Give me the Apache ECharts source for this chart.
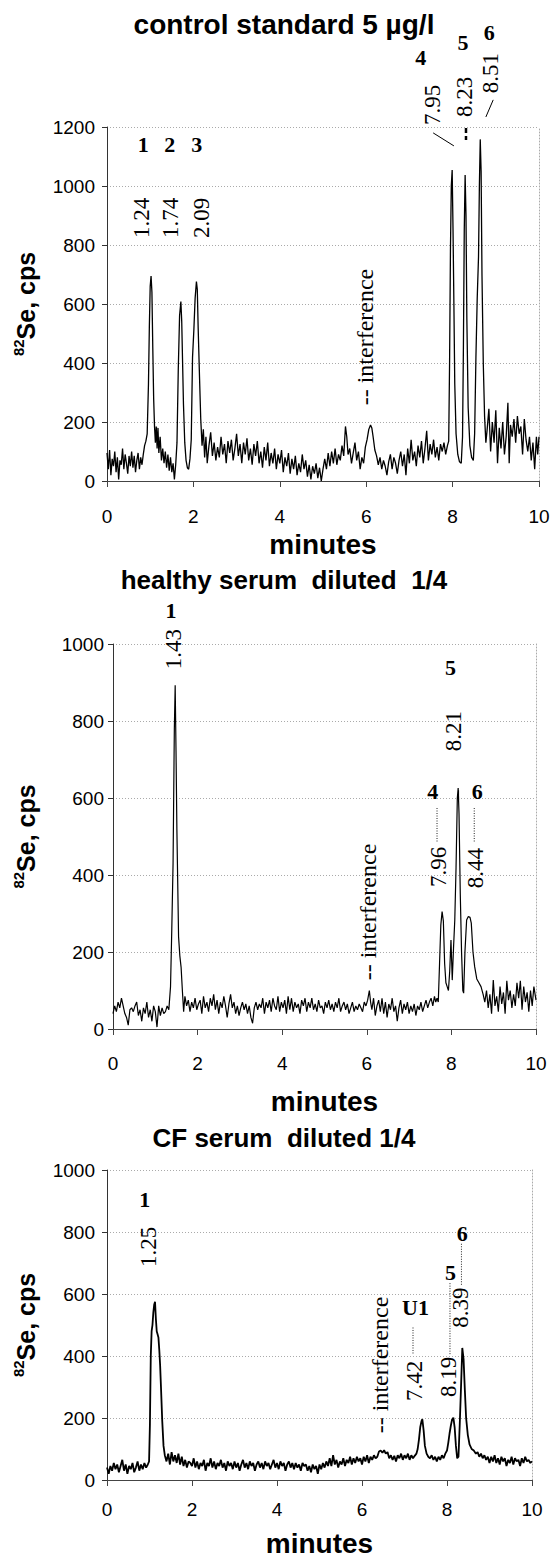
<!DOCTYPE html>
<html>
<head>
<meta charset="utf-8">
<title>82Se chromatograms</title>
<script src="https://cdn.jsdelivr.net/npm/echarts@6/dist/echarts.min.js"></script>
<style>
  html, body { margin: 0; padding: 0; background: #fff; }
  #main { width: 554px; height: 1558px; }
</style>
</head>
<body>
<div id="main"></div>
<script>
/** ---------------- data ---------------- */
// [minutes, cps]
var ctrlTrace = [
  [0,95],[0.03,40],[0.06,105],[0.09,20],[0.12,75],[0.15,50],[0.18,100],[0.21,30],[0.24,80],[0.27,5],
  [0.30,70],[0.33,55],[0.36,110],[0.39,40],[0.42,90],[0.45,60],[0.48,25],[0.51,85],[0.54,50],[0.57,100],
  [0.60,45],[0.63,85],[0.66,30],[0.69,70],[0.72,95],[0.75,40],[0.78,80],[0.81,55],[0.84,90],[0.87,120],
  [0.90,135],[0.93,160],[0.96,330],[0.98,520],[1.00,660],[1.02,695],[1.04,640],[1.06,450],[1.08,280],[1.10,185],
  [1.12,130],[1.14,185],[1.16,110],[1.18,180],[1.20,95],[1.23,150],[1.26,70],[1.29,110],[1.32,60],[1.35,100],
  [1.38,45],[1.41,90],[1.44,35],[1.47,80],[1.50,30],[1.53,60],[1.56,5],[1.59,55],[1.62,130],[1.65,380],
  [1.68,560],[1.71,608],[1.73,540],[1.75,400],[1.77,260],[1.80,130],[1.83,70],[1.86,45],[1.89,40],[1.92,75],
  [1.95,140],[1.98,420],[2.01,510],[2.04,620],[2.07,676],[2.09,650],[2.11,520],[2.14,360],[2.17,210],[2.20,120],
  [2.23,175],[2.26,80],[2.29,150],[2.32,60],[2.36,120],[2.40,165],[2.44,85],[2.48,130],[2.52,70],[2.56,115],
  [2.60,80],[2.64,150],[2.68,90],[2.72,125],[2.76,60],[2.80,135],[2.84,95],[2.88,140],[2.92,70],[2.96,110],
  [3.00,160],[3.04,85],[3.08,125],[3.12,60],[3.16,130],[3.20,90],[3.24,145],[3.28,70],[3.32,110],[3.36,55],
  [3.40,125],[3.44,85],[3.48,135],[3.52,60],[3.56,100],[3.60,45],[3.64,115],[3.68,70],[3.72,130],[3.76,50],
  [3.80,95],[3.84,60],[3.88,110],[3.92,40],[3.96,90],[4.00,60],[4.04,105],[4.08,30],[4.12,80],[4.16,50],
  [4.20,95],[4.24,25],[4.28,75],[4.32,40],[4.36,85],[4.40,20],[4.44,60],[4.48,30],[4.52,90],[4.56,40],
  [4.60,70],[4.64,15],[4.68,55],[4.72,5],[4.76,50],[4.80,25],[4.84,60],[4.88,10],[4.92,45],[4.96,0],
  [5.00,40],[5.04,75],[5.08,40],[5.12,95],[5.16,50],[5.20,100],[5.24,60],[5.28,110],[5.32,55],[5.36,90],
  [5.40,70],[5.44,120],[5.48,85],[5.52,185],[5.55,150],[5.58,90],[5.62,110],[5.66,60],[5.70,95],[5.74,130],
  [5.78,70],[5.82,100],[5.86,40],[5.90,80],[5.94,60],[5.98,115],[6.02,140],[6.06,175],[6.10,190],[6.13,180],
  [6.16,150],[6.20,105],[6.24,85],[6.28,55],[6.32,80],[6.36,40],[6.40,70],[6.44,50],[6.48,20],[6.52,65],
  [6.56,90],[6.60,40],[6.64,80],[6.68,60],[6.72,25],[6.76,70],[6.80,100],[6.84,50],[6.88,90],[6.92,20],
  [6.96,110],[7.00,60],[7.04,140],[7.08,70],[7.12,100],[7.16,50],[7.20,120],[7.24,80],[7.28,135],[7.32,60],
  [7.36,110],[7.40,170],[7.44,70],[7.48,125],[7.52,90],[7.56,140],[7.60,80],[7.64,115],[7.68,70],[7.72,125],
  [7.76,100],[7.80,130],[7.84,90],[7.88,120],[7.91,135],[7.93,400],[7.95,780],[7.97,1000],[7.99,1054],[8.01,850],
  [8.03,600],[8.05,330],[8.08,160],[8.12,90],[8.16,65],[8.20,60],[8.23,150],[8.25,450],[8.27,850],[8.29,1037],
  [8.31,900],[8.33,550],[8.36,250],[8.40,120],[8.44,80],[8.48,70],[8.51,160],[8.54,420],[8.57,620],[8.60,760],
  [8.62,1000],[8.64,1158],[8.66,1050],[8.68,700],[8.71,400],[8.74,220],[8.77,130],[8.80,175],[8.84,245],[8.88,100],
  [8.92,200],[8.96,130],[9.00,240],[9.04,60],[9.08,180],[9.12,110],[9.16,200],[9.20,90],[9.24,150],[9.28,265],
  [9.31,60],[9.34,190],[9.38,150],[9.42,210],[9.46,130],[9.50,220],[9.54,160],[9.58,185],[9.62,90],[9.66,210],
  [9.70,140],[9.74,100],[9.78,150],[9.82,70],[9.86,130],[9.90,40],[9.94,150],[9.97,90],[10,150]
];

var healthyTrace = [
  [0,40],[0.04,60],[0.08,45],[0.12,70],[0.16,55],[0.20,80],[0.24,60],[0.28,40],[0.32,30],[0.36,10],
  [0.40,50],[0.44,55],[0.48,45],[0.52,60],[0.56,70],[0.60,35],[0.64,50],[0.68,20],[0.72,55],[0.76,40],
  [0.80,70],[0.84,30],[0.88,50],[0.92,20],[0.96,60],[1.00,45],[1.04,5],[1.08,60],[1.12,35],[1.16,55],
  [1.20,40],[1.24,45],[1.28,60],[1.32,50],[1.36,110],[1.39,260],[1.42,430],[1.45,780],[1.47,893],[1.49,720],
  [1.51,520],[1.53,380],[1.55,240],[1.58,190],[1.61,160],[1.64,100],[1.67,45],[1.70,85],[1.74,60],[1.78,75],
  [1.82,45],[1.86,70],[1.90,55],[1.94,80],[1.98,50],[2.02,65],[2.06,75],[2.10,40],[2.14,85],[2.18,55],
  [2.22,70],[2.26,45],[2.30,80],[2.34,60],[2.38,90],[2.42,50],[2.46,75],[2.50,40],[2.54,70],[2.58,55],
  [2.62,85],[2.66,60],[2.70,30],[2.74,65],[2.78,90],[2.82,55],[2.86,70],[2.90,40],[2.94,60],[2.98,35],
  [3.02,55],[3.06,70],[3.10,50],[3.14,65],[3.18,40],[3.22,60],[3.26,30],[3.30,15],[3.34,55],[3.38,70],
  [3.42,50],[3.46,65],[3.50,55],[3.54,80],[3.58,40],[3.62,70],[3.66,55],[3.70,75],[3.74,45],[3.78,80],
  [3.82,60],[3.86,50],[3.90,85],[3.94,45],[3.98,70],[4.02,55],[4.06,75],[4.10,40],[4.14,85],[4.18,50],
  [4.22,80],[4.26,45],[4.30,70],[4.34,55],[4.38,65],[4.42,40],[4.46,75],[4.50,60],[4.54,80],[4.58,45],
  [4.62,70],[4.66,55],[4.70,80],[4.74,50],[4.78,65],[4.82,45],[4.86,75],[4.90,55],[4.94,60],[4.98,40],
  [5.02,70],[5.06,55],[5.10,75],[5.14,50],[5.18,65],[5.22,45],[5.26,70],[5.30,55],[5.34,80],[5.38,45],
  [5.42,60],[5.46,70],[5.50,50],[5.54,65],[5.58,40],[5.62,55],[5.66,70],[5.70,45],[5.74,60],[5.78,50],
  [5.82,65],[5.86,55],[5.90,45],[5.94,70],[5.98,60],[6.02,75],[6.06,100],[6.09,70],[6.12,50],[6.16,80],
  [6.20,35],[6.24,60],[6.28,75],[6.32,45],[6.36,80],[6.40,40],[6.44,70],[6.48,30],[6.52,65],[6.56,50],
  [6.60,80],[6.64,45],[6.68,60],[6.72,20],[6.76,55],[6.80,75],[6.84,40],[6.88,65],[6.92,50],[6.96,70],
  [7.00,40],[7.04,60],[7.08,45],[7.12,65],[7.16,35],[7.20,60],[7.24,50],[7.28,70],[7.32,45],[7.36,60],
  [7.40,75],[7.44,55],[7.48,70],[7.52,80],[7.56,60],[7.60,85],[7.63,70],[7.66,80],[7.69,70],[7.72,170],
  [7.75,270],[7.78,305],[7.81,280],[7.84,170],[7.87,120],[7.90,110],[7.93,100],[7.96,150],[7.99,231],[8.02,127],
  [8.05,210],[8.08,283],[8.11,420],[8.14,600],[8.16,626],[8.18,560],[8.21,350],[8.24,200],[8.27,100],[8.29,93],
  [8.32,200],[8.36,283],[8.40,292],[8.44,290],[8.47,275],[8.51,200],[8.55,162],[8.60,130],[8.65,120],[8.70,110],
  [8.75,90],[8.79,70],[8.83,100],[8.87,55],[8.91,90],[8.95,40],[8.99,127],[9.03,60],[9.07,85],[9.11,45],
  [9.15,110],[9.19,65],[9.23,95],[9.27,40],[9.31,125],[9.35,75],[9.39,100],[9.43,55],[9.47,90],[9.51,60],
  [9.55,120],[9.59,80],[9.63,125],[9.67,50],[9.71,110],[9.75,70],[9.79,95],[9.83,45],[9.87,100],[9.91,60],
  [9.95,110],[10,75]
];

var cfTrace = [
  [0,40],[0.04,20],[0.08,45],[0.12,30],[0.16,55],[0.20,35],[0.24,50],[0.28,25],[0.32,45],[0.36,65],
  [0.40,30],[0.44,50],[0.48,20],[0.52,45],[0.56,35],[0.60,55],[0.64,25],[0.68,40],[0.72,60],[0.76,30],
  [0.80,50],[0.84,35],[0.88,55],[0.92,40],[0.96,50],[0.99,60],[1.01,180],[1.03,400],[1.05,480],[1.07,500],
  [1.09,540],[1.11,565],[1.13,575],[1.15,520],[1.17,480],[1.19,470],[1.21,460],[1.23,420],[1.25,370],[1.27,300],
  [1.30,190],[1.33,110],[1.36,80],[1.40,60],[1.44,85],[1.48,50],[1.52,90],[1.56,60],[1.60,80],[1.64,55],
  [1.68,85],[1.72,50],[1.76,75],[1.80,45],[1.84,65],[1.88,40],[1.92,60],[1.96,55],[2.00,45],[2.04,70],
  [2.08,40],[2.12,60],[2.16,35],[2.20,55],[2.24,45],[2.28,65],[2.32,30],[2.36,55],[2.40,45],[2.44,70],
  [2.48,40],[2.52,60],[2.56,35],[2.60,55],[2.64,45],[2.68,65],[2.72,40],[2.76,55],[2.80,30],[2.84,60],
  [2.88,45],[2.92,55],[2.96,35],[3.00,60],[3.04,40],[3.08,55],[3.12,30],[3.16,50],[3.20,65],[3.24,40],
  [3.28,55],[3.32,35],[3.36,60],[3.40,45],[3.44,55],[3.48,30],[3.52,50],[3.56,60],[3.60,40],[3.64,55],
  [3.68,35],[3.72,60],[3.76,45],[3.80,55],[3.84,35],[3.88,50],[3.92,65],[3.96,40],[4.00,55],[4.04,35],
  [4.08,60],[4.12,45],[4.16,55],[4.20,30],[4.24,50],[4.28,60],[4.32,40],[4.36,55],[4.40,35],[4.44,55],
  [4.48,40],[4.52,50],[4.56,30],[4.60,55],[4.64,45],[4.68,50],[4.72,30],[4.76,45],[4.80,25],[4.84,50],
  [4.88,35],[4.92,45],[4.96,20],[5.00,50],[5.04,35],[5.08,55],[5.12,40],[5.16,60],[5.20,45],[5.24,70],
  [5.28,45],[5.32,80],[5.36,50],[5.40,65],[5.44,40],[5.48,60],[5.52,50],[5.56,70],[5.60,45],[5.64,65],
  [5.68,55],[5.72,75],[5.76,50],[5.80,70],[5.84,55],[5.88,75],[5.92,60],[5.96,70],[6.00,50],[6.04,75],
  [6.08,60],[6.12,80],[6.16,55],[6.20,75],[6.24,65],[6.28,80],[6.32,70],[6.36,75],[6.40,92],[6.44,95],
  [6.48,88],[6.52,96],[6.56,85],[6.60,90],[6.64,70],[6.68,80],[6.72,65],[6.76,78],[6.80,60],[6.84,80],
  [6.88,70],[6.92,85],[6.96,65],[7.00,80],[7.04,70],[7.08,85],[7.12,65],[7.16,80],[7.20,70],[7.24,78],
  [7.28,85],[7.31,100],[7.34,130],[7.37,170],[7.40,190],[7.42,196],[7.45,160],[7.48,110],[7.52,85],[7.56,75],
  [7.60,70],[7.64,80],[7.68,65],[7.72,75],[7.76,60],[7.80,75],[7.84,65],[7.88,80],[7.92,70],[7.96,85],
  [8.00,95],[8.03,120],[8.06,150],[8.09,175],[8.12,195],[8.15,201],[8.18,170],[8.21,110],[8.24,70],[8.27,75],
  [8.30,180],[8.33,300],[8.36,426],[8.39,390],[8.42,290],[8.45,200],[8.49,145],[8.53,115],[8.58,100],[8.63,95],
  [8.68,85],[8.72,90],[8.76,75],[8.80,85],[8.84,70],[8.88,80],[8.92,65],[8.96,75],[9.00,55],[9.04,75],
  [9.08,60],[9.12,80],[9.16,55],[9.20,70],[9.24,50],[9.28,75],[9.32,60],[9.36,70],[9.40,45],[9.44,65],
  [9.48,55],[9.52,75],[9.56,50],[9.60,70],[9.64,60],[9.68,65],[9.72,45],[9.76,70],[9.80,55],[9.84,75],
  [9.88,60],[9.92,65],[9.96,55],[10,60]
];

var panelTitles = ['control standard 5 µg/l', 'healthy serum  diluted  1/4', 'CF serum  diluted 1/4'];
var yMax = [1200, 1000, 1000];

// peak numbers and retention times written on each panel
var ctrlPeakNames = ['1', '2', '3', '4', '5', '6'];
var ctrlPeakTimes = ['1.24', '1.74', '2.09', '7.95', '8.23', '8.51'];
var healthyPeakNames = ['1', '5', '4', '6'];
var healthyPeakTimes = ['1.43', '8.21', '7.96', '8.44'];
var cfPeakNames = ['1', '6', '5', 'U1'];
var cfPeakTimes = ['1.25', '8.39', '8.19', '7.42'];
var interferenceText = '-- interference';

/** ---------------- layout ---------------- */
var SANS = '"Liberation Sans", Arial, sans-serif';
var SERIF = '"Liberation Serif", "Times New Roman", serif';

var grids = [
  { left: 107, top: 127, width: 432, height: 354 },
  { left: 113, top: 644, width: 423, height: 385 },
  { left: 107, top: 1170, width: 425, height: 315 }
];
var titleTops = [10, 567, 1125];
var titleSizes = [28, 26, 26];
var xNameGaps = [49, 58, 49];
var xLabelMargins = [26, 25, 20];
var yNameGaps = [66, 72, 66];
var yLabelMargins = [12, 9, 12];
var lineWidths = [1.3, 1.2, 1.8];

// anchors for the annotations, in axis units [minutes, cps]
var namePlaces = [
  [[0.84, 1139], [1.45, 1139], [2.08, 1139], [7.26, 1437], [8.24, 1485], [8.85, 1519]],
  [[1.37, 1088], [7.98, 938], [7.56, 616], [8.61, 616]],
  [[0.89, 905], [8.36, 794], [8.08, 670], [7.26, 556]]
];
var timePlaces = [
  [[0.79, 892], [1.47, 892], [2.19, 892], [7.54, 1275], [8.28, 1302], [8.87, 1383]],
  [[1.42, 987], [8.04, 774], [7.70, 421], [8.56, 418]],
  [[0.98, 752], [8.31, 556], [8.03, 333], [7.23, 320]]
];
var interferencePlaces = [[5.97, 488], [6.03, 304], [6.43, 371]];
// leader lines: [t1, v1, t2, v2, kind]
var leaderLines = [
  [[7.55, 1180, 8.03, 1136, 'thin'], [8.31, 1197, 8.31, 1156, 'dash'], [8.94, 1292, 8.77, 1234, 'thin']],
  [[7.66, 574, 7.66, 486, 'dot'], [8.54, 574, 8.54, 486, 'dot'], [8.17, 620, 8.17, 595, 'thin']],
  [[8.34, 762, 8.34, 629, 'dot'], [8.07, 635, 8.07, 406, 'dot'], [7.20, 492, 7.20, 406, 'dot']]
];

var traces = [ctrlTrace, healthyTrace, cfTrace];
var peakNames = [ctrlPeakNames, healthyPeakNames, cfPeakNames];
var peakTimes = [ctrlPeakTimes, healthyPeakTimes, cfPeakTimes];

var chart = echarts.init(document.getElementById('main'), null, { renderer: 'svg' });

function buildOption() {
  var title = [], xAxis = [], yAxis = [], series = [];
  for (var i = 0; i < 3; i++) {
    title.push({
      text: panelTitles[i],
      left: 284,
      top: titleTops[i],
      textAlign: 'center',
      padding: 0,
      textStyle: { fontFamily: SANS, fontSize: titleSizes[i], fontWeight: 'bold', color: '#000' }
    });
    xAxis.push({
      gridIndex: i,
      type: 'value',
      min: 0,
      max: 10,
      interval: 2,
      name: 'minutes',
      nameLocation: 'middle',
      nameGap: xNameGaps[i],
      nameTextStyle: { fontFamily: SANS, fontSize: 28, fontWeight: 'bold', color: '#000' },
      axisLine: { show: true, onZero: false, lineStyle: { color: '#444', width: 1 } },
      axisTick: { show: true, inside: false, length: 6, lineStyle: { color: '#444' } },
      axisLabel: { fontFamily: SANS, fontSize: 19, color: '#000', margin: xLabelMargins[i] },
      splitLine: { show: false }
    });
    // left value axis
    yAxis.push({
      gridIndex: i,
      type: 'value',
      min: 0,
      max: yMax[i],
      interval: 200,
      name: '{sup|82}{main|Se, cps}',
      nameLocation: 'middle',
      nameRotate: 90,
      nameGap: yNameGaps[i],
      nameTextStyle: {
        rich: {
          sup: { fontFamily: SANS, fontSize: 15, fontWeight: 'bold', color: '#000', verticalAlign: 'top', lineHeight: 30 },
          main: { fontFamily: SANS, fontSize: 25, fontWeight: 'bold', color: '#000', lineHeight: 30 }
        }
      },
      axisLine: { show: true, lineStyle: { color: '#333', width: 1 } },
      axisTick: { show: true, inside: false, length: 5, lineStyle: { color: '#333' } },
      axisLabel: {
        fontFamily: SANS, fontSize: 19, color: '#000', margin: yLabelMargins[i],
        formatter: function (v) { return String(v); }
      },
      splitLine: { show: true, lineStyle: { color: '#aaa', width: 1, type: [1, 2] } }
    });
    // right edge of the plot area (dotted frame)
    yAxis.push({
      gridIndex: i,
      type: 'value',
      position: 'right',
      min: 0,
      max: yMax[i],
      interval: 200,
      axisLine: { show: true, lineStyle: { color: '#aaa', width: 1, type: [1, 2] } },
      axisTick: { show: false },
      axisLabel: { show: false },
      splitLine: { show: false }
    });
    series.push({
      type: 'line',
      xAxisIndex: i,
      yAxisIndex: i * 2,
      data: traces[i],
      showSymbol: false,
      symbol: 'none',
      smooth: false,
      lineStyle: { color: '#000', width: lineWidths[i] },
      silent: true
    });
  }
  return {
    backgroundColor: '#fff',
    animation: false,
    title: title,
    grid: grids,
    xAxis: xAxis,
    yAxis: yAxis,
    series: series
  };
}

chart.setOption(buildOption());

/** ---------------- annotations (placed through the axes) ---------------- */
function toPx(i, t, v) {
  return chart.convertToPixel({ xAxisIndex: i, yAxisIndex: i * 2 }, [t, v]);
}

function drawNotes() {
  var els = [];
  for (var i = 0; i < 3; i++) {
    var k, p;
    for (k = 0; k < peakNames[i].length; k++) {
      p = toPx(i, namePlaces[i][k][0], namePlaces[i][k][1]);
      els.push({
        type: 'text', x: p[0], y: p[1], silent: true,
        style: { text: peakNames[i][k], fontFamily: SERIF, fontSize: 22, fontWeight: 'bold',
                 fill: '#000', align: 'center', verticalAlign: 'middle' }
      });
    }
    for (k = 0; k < peakTimes[i].length; k++) {
      p = toPx(i, timePlaces[i][k][0], timePlaces[i][k][1]);
      els.push({
        type: 'text', x: p[0], y: p[1], rotation: Math.PI / 2, silent: true,
        style: { text: peakTimes[i][k], fontFamily: SERIF, fontSize: 23,
                 fill: '#000', align: 'center', verticalAlign: 'middle' }
      });
    }
    p = toPx(i, interferencePlaces[i][0], interferencePlaces[i][1]);
    els.push({
      type: 'text', x: p[0], y: p[1], rotation: Math.PI / 2, silent: true,
      style: { text: interferenceText, fontFamily: SERIF, fontSize: 24,
               fill: '#000', align: 'center', verticalAlign: 'middle' }
    });
    for (k = 0; k < leaderLines[i].length; k++) {
      var L = leaderLines[i][k];
      var a = toPx(i, L[0], L[1]);
      var b = toPx(i, L[2], L[3]);
      var st = { stroke: '#000', lineWidth: 1 };
      if (L[4] === 'dot') { st.lineDash = [1, 1.5]; st.stroke = '#222'; }
      if (L[4] === 'dash') { st.lineWidth = 2.5; st.lineDash = [5, 3]; }
      els.push({ type: 'line', silent: true, shape: { x1: a[0], y1: a[1], x2: b[0], y2: b[1] }, style: st });
    }
  }
  chart.setOption({ graphic: els });
}

drawNotes();
</script>
</body>
</html>
